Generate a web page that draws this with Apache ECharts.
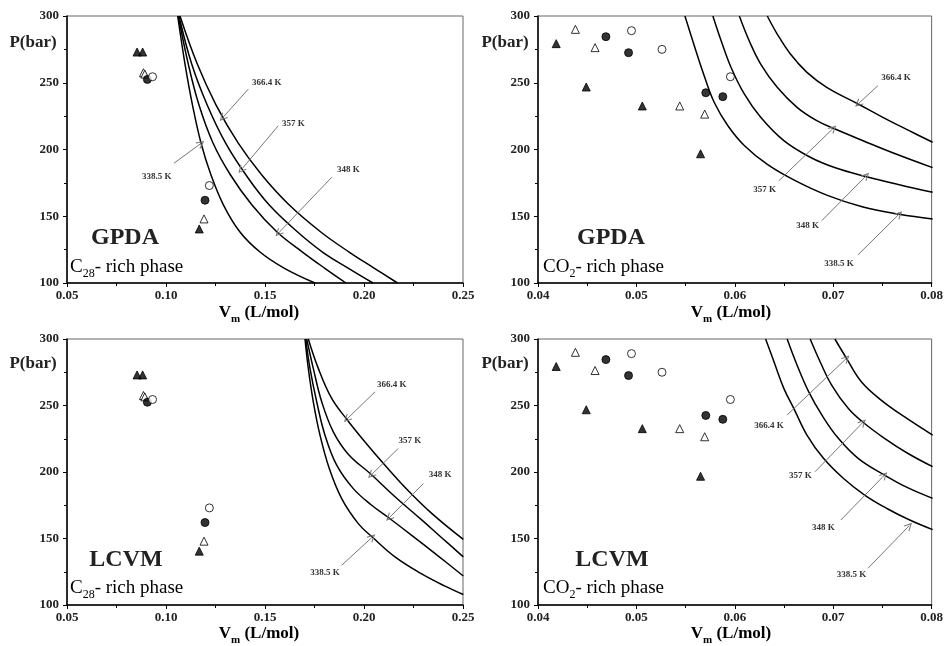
<!DOCTYPE html>
<html><head><meta charset="utf-8">
<script src="https://cdn.jsdelivr.net/npm/echarts@6/dist/echarts.min.js"></script>
<style>html,body{margin:0;padding:0;background:#fff}#c{width:946px;height:646px}</style>
</head><body><div id="c"></div>
<script>
// ---------- experimental points [Vm (L/mol), P (bar)] ----------
// C28-rich phase
const c28_338 = [[0.0854,273],[0.0882,273],[0.1168,140.5]];
const c28_348 = [[0.0886,257.5],[0.0893,256.5],[0.1192,148]];
const c28_357 = [[0.0906,252.5],[0.1197,162]];
const c28_366 = [[0.0932,254.5],[0.1219,173]];
// CO2-rich phase
const co2_338 = [[0.04185,279.3],[0.0449,246.8],[0.0506,232.6],[0.05652,196.8]];
const co2_348 = [[0.0438,290],[0.0458,276.3],[0.0544,232.6],[0.05694,226.5]];
const co2_357 = [[0.0469,284.5],[0.0492,272.5],[0.05705,242.5],[0.05878,239.6]];
const co2_366 = [[0.0495,289],[0.0526,275],[0.05955,254.5]];

// ---------- model curves ----------
// GPDA, C28-rich
const gpdaC28_338 = [[0.10591,300],[0.10960,264],[0.11338,233.3],[0.11768,204.9],[0.12273,180.9],[0.12904,158.4],[0.13737,138.2],[0.14747,123.2],[0.15960,111.2],[0.17525,100]];
const gpdaC28_348 = [[0.10621,300],[0.11126,264],[0.11667,233.3],[0.12374,204.9],[0.13258,180.9],[0.14343,158.4],[0.15606,138.2],[0.16894,123.2],[0.18005,111.2],[0.19091,100]];
const gpdaC28_357 = [[0.10657,300],[0.11298,264],[0.12081,233.3],[0.13005,204.9],[0.14040,180.9],[0.15217,158.4],[0.16646,138.2],[0.17904,123.2],[0.19197,111.2],[0.20455,100]];
const gpdaC28_366 = [[0.10707,300],[0.11581,264],[0.12530,233.3],[0.13641,204.9],[0.14838,180.9],[0.16227,158.4],[0.17818,138.2],[0.19247,123.2],[0.20505,111.2],[0.21692,100]];
// GPDA, CO2-rich
const gpdaCO2_338 = [[0.05493,300],[0.05593,276.6],[0.05694,254.1],[0.05794,234.8],[0.05928,218],[0.06096,203],[0.06331,188.8],[0.06599,177.2],[0.06934,165.8],[0.07303,156.9],[0.07671,151.5],[0.0801,147.9]];
const gpdaCO2_348 = [[0.05777,300],[0.05861,281.5],[0.05961,261.6],[0.06096,241.6],[0.06263,224.1],[0.06498,206.6],[0.06766,194.2],[0.07029,186.1],[0.07331,179.8],[0.07671,173.6],[0.0801,167.9]];
const gpdaCO2_357 = [[0.06046,300],[0.06146,281.5],[0.06263,264],[0.06431,246.6],[0.06632,231.6],[0.06833,221.6],[0.07001,215.9],[0.07303,206.6],[0.07638,196.6],[0.0801,186.4]];
const gpdaCO2_366 = [[0.0633,300],[0.06431,286.5],[0.06565,271.5],[0.06733,257.8],[0.06934,246.6],[0.07253,234.1],[0.07504,224.1],[0.07772,214.1],[0.0801,205.4]];
// LCVM, C28-rich
const lcvmC28_338 = [[0.1702,300],[0.17187,277.9],[0.17439,252.8],[0.17778,227.7],[0.18247,202.6],[0.18874,180],[0.19712,161.2],[0.20419,151.1],[0.21566,136.2],[0.22914,123.4],[0.24091,114.2],[0.25015,107.9]];
const lcvmC28_348 = [[0.17056,300],[0.17273,277.9],[0.17611,252.8],[0.1803,227.7],[0.18621,205.1],[0.1946,187.5],[0.20389,175],[0.21263,165.4],[0.22409,152.4],[0.23753,136.8],[0.25015,121.8]];
const lcvmC28_357 = [[0.17106,300],[0.17439,277.9],[0.17864,252.8],[0.18449,230.2],[0.19207,213.4],[0.20354,198.3],[0.21566,181.4],[0.22914,164],[0.23924,150.6],[0.25015,136.2]];
const lcvmC28_366 = [[0.17187,300],[0.17692,277.9],[0.18369,255.3],[0.19126,239.7],[0.20051,222.6],[0.21061,205.1],[0.22237,185.9],[0.23419,168.9],[0.25015,149.3]];
// LCVM, CO2-rich
const lcvmCO2_338 = [[0.06313,300],[0.06398,282.9],[0.06498,262.9],[0.06599,247.9],[0.06733,227.8],[0.06901,210.3],[0.07102,195.3],[0.07319,182.7],[0.07555,172.2],[0.07772,164.1],[0.0801,156.7]];
const lcvmCO2_348 = [[0.06532,300],[0.06632,280.5],[0.0675,260.4],[0.06884,242.9],[0.07052,225.3],[0.07253,210.3],[0.07521,197.7],[0.07756,188.2],[0.0801,180.2]];
const lcvmCO2_357 = [[0.06766,300],[0.06867,282.9],[0.06984,265.4],[0.07152,247.9],[0.07303,237.4],[0.07521,225.3],[0.07756,214.1],[0.0801,204]];
const lcvmCO2_366 = [[0.07017,300],[0.07135,285.5],[0.07286,267.9],[0.07487,254.1],[0.07722,241.6],[0.0801,227.8]];

// ---------- annotation arrows [tail, tip] and label centres ----------
const tempNames = ['338.5 K','348 K','357 K','366.4 K'];
const arrowsP1 = [[[0.104,189.7],[0.1177,204.6]],[[0.1837,179.2],[0.1567,137.2]],[[0.1567,217.8],[0.1379,184.6]],[[0.1416,245.3],[0.1285,223.6]]];
const labelsP1 = [[0.0953,179.6],[0.1921,184.6],[0.1643,219.1],[0.1509,250.3]];
const arrowsP2 = [[[0.07253,121.2],[0.07671,151.7]],[[0.06884,146.7],[0.07336,180.4]],[[0.06448,176.6],[0.07001,215.9]],[[0.07454,247.8],[0.07253,234.1]]];
const labelsP2 = [[0.07058,114.2],[0.0674,142.9],[0.06303,169.9],[0.07638,254.1]];
const arrowsP3 = [[[0.1887,129.8],[0.2042,151.1]],[[0.23,191.3],[0.2126,165.4]],[[0.2173,217.7],[0.2035,197.6]],[[0.2056,260.3],[0.1913,239.7]]];
const labelsP3 = [[0.1803,124.3],[0.2384,198.1],[0.2232,223.2],[0.214,265.9]];
const arrowsP4 = [[[0.07353,127.6],[0.07772,159.6]],[[0.07078,163.9],[0.07521,197.7]],[[0.06816,200.2],[0.07303,237.4]],[[0.06532,242.9],[0.07135,285.5]]];
const labelsP4 = [[0.07185,122.6],[0.069,158.1],[0.06665,197],[0.06348,234.8]];

// axis ranges / ticks
const xRangeC28 = {min:0.05, max:0.25, interval:0.05};
const xRangeCO2 = {min:0.04, max:0.08, interval:0.01};
const yRange = {min:100, max:300, interval:50};

// ---------- build ----------
const SERIF = '"Liberation Serif", "DejaVu Serif", serif';
const grids = [
  {left:67, top:16, width:396, height:267},
  {left:538, top:16, width:398, height:267},
  {left:67, top:339, width:396, height:266},
  {left:538, top:339, width:398, height:266}
].map(g => Object.assign({show:true, borderColor:'#666', borderWidth:1, backgroundColor:'transparent'}, g));

function axisCommon(){
  return {
    type:'value',
    axisLine:{show:true, onZero:false, lineStyle:{color:'#000', width:1.5}},
    axisTick:{show:true, inside:false, length:4, lineStyle:{color:'#000', width:1}},
    minorTick:{show:true, splitNumber:2, length:3, lineStyle:{color:'#000', width:1}},
    splitLine:{show:false}, minorSplitLine:{show:false},
    axisLabel:{fontFamily:SERIF, fontWeight:'bold', fontSize:13, color:'#222'}
  };
}
const xRanges = [xRangeC28, xRangeCO2, xRangeC28, xRangeCO2];
const xAxes = xRanges.map((r,i) => {
  const a = axisCommon();
  Object.assign(a, {gridIndex:i, min:r.min, max:r.max, interval:r.interval});
  a.axisLabel.margin = 6;
  a.axisLabel.formatter = v => v.toFixed(2);
  return a;
});
const yAxes = [0,1,2,3].map(i => {
  const a = axisCommon();
  Object.assign(a, {gridIndex:i, min:yRange.min, max:yRange.max, interval:yRange.interval});
  a.axisLabel.margin = 8;
  return a;
});

const chevron = 'path://M5,0 L10,10 L8.6,10 L5,2.8 L1.4,10 L0,10 Z';
const panels = [
  {curves:[gpdaC28_338,gpdaC28_348,gpdaC28_357,gpdaC28_366], arrows:arrowsP1, labels:labelsP1, exp:[c28_338,c28_348,c28_357,c28_366]},
  {curves:[gpdaCO2_338,gpdaCO2_348,gpdaCO2_357,gpdaCO2_366], arrows:arrowsP2, labels:labelsP2, exp:[co2_338,co2_348,co2_357,co2_366]},
  {curves:[lcvmC28_338,lcvmC28_348,lcvmC28_357,lcvmC28_366], arrows:arrowsP3, labels:labelsP3, exp:[c28_338,c28_348,c28_357,c28_366]},
  {curves:[lcvmCO2_338,lcvmCO2_348,lcvmCO2_357,lcvmCO2_366], arrows:arrowsP4, labels:labelsP4, exp:[co2_338,co2_348,co2_357,co2_366]}
];
const markerStyles = [
  {symbol:'triangle', itemStyle:{color:'#000', borderColor:'#000', borderWidth:1}, size:8},
  {symbol:'triangle', itemStyle:{color:'#fff', borderColor:'#000', borderWidth:1}, size:8},
  {symbol:'circle', itemStyle:{color:'#000', borderColor:'#000', borderWidth:1}, size:8},
  {symbol:'circle', itemStyle:{color:'#fff', borderColor:'#000', borderWidth:1}, size:8}
];

const series = [];
panels.forEach((p, i) => {
  p.curves.forEach((c, k) => {
    series.push({
      type:'line', name:tempNames[k], xAxisIndex:i, yAxisIndex:i, data:c,
      smooth:0.4, showSymbol:false, symbol:'none',
      lineStyle:{color:'#000', width:1.5}, silent:true, animation:false,
      markLine:{
        silent:true, animation:false, symbol:['none', chevron], symbolSize:[8,8],
        lineStyle:{color:'#777', width:1, type:'solid'},
        label:{show:false},
        data:[[{coord:p.arrows[k][0]},{coord:p.arrows[k][1]}]]
      },
      markPoint:{
        silent:true, animation:false, symbol:'circle', symbolSize:0,
        label:{show:true, position:'inside', formatter:tempNames[k], fontFamily:SERIF, fontWeight:'bold', fontSize:9, color:'#333'},
        data:[{coord:p.labels[k]}]
      }
    });
  });
  p.exp.forEach((d, k) => {
    const m = markerStyles[k];
    series.push({
      type:'scatter', name:'exp ' + tempNames[k], xAxisIndex:i, yAxisIndex:i, data:d,
      symbol:m.symbol, symbolSize:m.size, itemStyle:m.itemStyle, silent:true, animation:false, z:5
    });
  });
});

const richMain = {
  b:{fontFamily:SERIF, fontWeight:'bold', fontSize:17, color:'#222'},
  s:{fontFamily:SERIF, fontWeight:'bold', fontSize:11, color:'#222', padding:[12,0,0,0]}
};
const richPhase = {
  a:{fontFamily:SERIF, fontSize:19, color:'#222'},
  s:{fontFamily:SERIF, fontSize:12, color:'#222', padding:[13,0,0,0]}
};
function txt(x, y, text, opts){
  return {type:'text', x:x, y:y, silent:true, z:100,
    style:Object.assign({text:text, align:'center', verticalAlign:'middle'}, opts)};
}
const graphic = [];
[[33,42.7],[505,42.7],[33,363.5],[505,363.5]].forEach(pt =>
  graphic.push(txt(pt[0], pt[1], 'P(bar)', {font:'bold 17px ' + SERIF, fill:'#222'})));
[[259,313],[731,313],[259,634],[731,634]].forEach(pt =>
  graphic.push(txt(pt[0], pt[1], '{b|V}{s|m}{b| (L/mol)}', {rich:richMain})));
[[125,238,'GPDA'],[611,238,'GPDA'],[126,560,'LCVM'],[612,559.5,'LCVM']].forEach(pt =>
  graphic.push(txt(pt[0], pt[1], pt[2], {font:'bold 24px ' + SERIF, fill:'#222'})));
[[70,267,'C','28'],[543,267,'CO','2'],[70,588.5,'C','28'],[543,588.5,'CO','2']].forEach(pt =>
  graphic.push(txt(pt[0], pt[1], '{a|' + pt[2] + '}{s|' + pt[3] + '}{a|- rich phase}', {rich:richPhase, align:'left'})));

const chart = echarts.init(document.getElementById('c'), null, {renderer:'canvas'});
chart.setOption({
  animation:false,
  backgroundColor:'#fff',
  grid:grids, xAxis:xAxes, yAxis:yAxes, series:series, graphic:graphic
});
</script></body></html>
